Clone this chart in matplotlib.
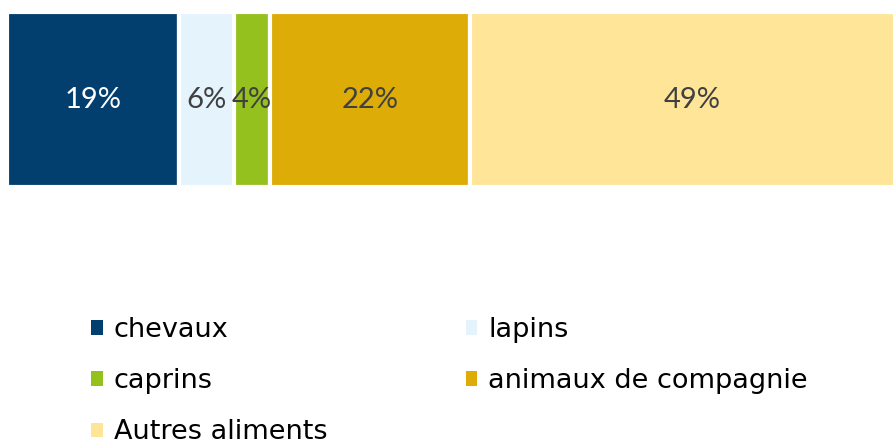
import matplotlib.pyplot as plt
from matplotlib.patches import Patch

# ---------- DONNEES ----------
categories = ["chevaux", "lapins", "caprins", "animaux de compagnie", "Autres aliments"]
valeurs = [19, 6, 4, 22, 49]
couleurs = ["#023F6F", "#E5F3FD", "#95C11F", "#DDAC06", "#FEE598"]
couleurs_texte = ["white", "#404040", "#404040", "#404040", "#404040"]

plt.rcParams["font.family"] = ["Lato", "DejaVu Sans"]

fig = plt.figure(figsize=(8.93, 4.41), dpi=100)
# l'axe depasse a droite : la barre est coupee par le bord de l'image
ax = fig.add_axes([7 / 893, 254 / 441, 907 / 893, 175 / 441])

gauche = 0
for cat, val, col, ct in zip(categories, valeurs, couleurs, couleurs_texte):
    ax.barh(0, val, left=gauche, height=1, color=col, edgecolor="white", linewidth=3)
    ax.text(gauche + val / 2, 0, f"{val}%", ha="center", va="center",
            color=ct, fontsize=21)
    gauche += val

ax.set_xlim(0, 100)
ax.set_ylim(-0.5, 0.5)
ax.axis("off")

# Legende sur deux colonnes, remplie ligne par ligne
ordre = [0, 2, 4, 1, 3]
handles = [Patch(facecolor=couleurs[i], edgecolor="none") for i in ordre]
labels = [categories[i] for i in ordre]
fig.legend(handles, labels, ncol=2, loc="upper left",
           bbox_to_anchor=(91 / 893, 1 - 317 / 441), frameon=False,
           prop={"family": "DejaVu Sans", "size": 19.5},
           handlelength=0.44, handleheight=0.44,
           handletextpad=0.4, columnspacing=5.1, labelspacing=0.93,
           borderpad=0, borderaxespad=0)

plt.savefig("out.png", dpi=100)
